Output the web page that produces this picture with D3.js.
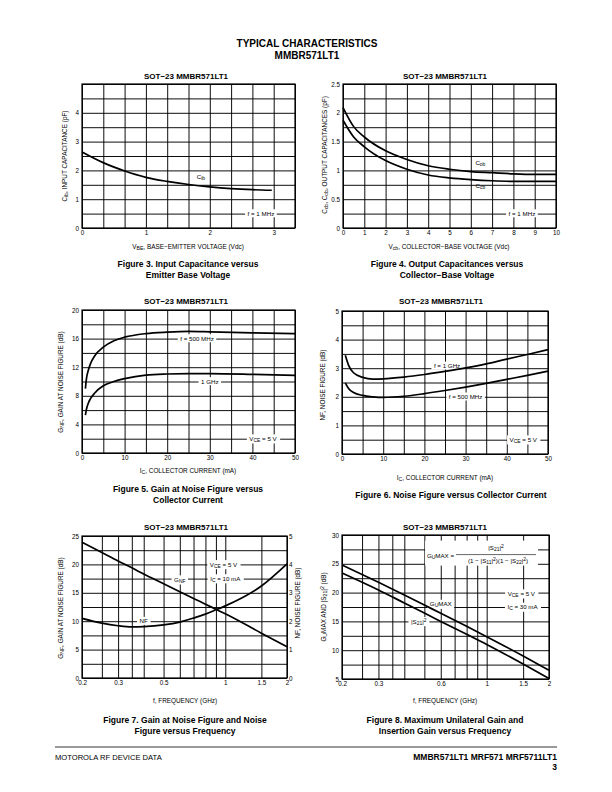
<!DOCTYPE html>
<html><head><meta charset="utf-8">
<script src="https://cdn.jsdelivr.net/npm/d3@7"></script>
<style>
body{margin:0;background:#fff}
svg{display:block}
text{font-family:"Liberation Sans",Arial,Helvetica,sans-serif}
</style>
</head><body>
<svg id="c" width="612" height="792"></svg>
<script>
// ---------------- DATA ----------------
// Figure 3: Input capacitance vs VBE
const fig3Vbe = [0, 0.33, 0.67, 1.0, 1.33, 1.67, 2.0, 2.33, 2.67, 2.97];
const fig3Cib = [2.64, 2.27, 1.98, 1.76, 1.62, 1.51, 1.43, 1.37, 1.33, 1.31];
const fig3XTicks = [0, 1, 2, 3];
const fig3YTicks = [0, 1, 2, 3, 4];

// Figure 4: Output capacitances vs VCB
const fig4Vcb = [0, 0.5, 1, 2, 3, 4, 5, 6, 7, 8, 9, 10];
const fig4Cob = [2.09, 1.76, 1.58, 1.34, 1.19, 1.08, 1.02, 0.98, 0.96, 0.94, 0.93, 0.93];
const fig4Ccb = [1.87, 1.58, 1.41, 1.17, 1.02, 0.92, 0.87, 0.84, 0.82, 0.81, 0.81, 0.81];
const fig4XTicks = [0, 1, 2, 3, 4, 5, 6, 7, 8, 9, 10];
const fig4YTicks = [0, 0.5, 1, 1.5, 2, 2.5];

// Figure 5: Gain at noise figure vs collector current
const fig5Ic = [0.8, 1.0, 1.5, 2, 3, 5, 7.5, 10, 15, 20, 25, 30, 40, 50];
const fig5G500 = [9.0, 10.2, 11.6, 12.5, 13.6, 14.8, 15.7, 16.2, 16.7, 16.9, 17.0, 16.95, 16.8, 16.7];
const fig5G1G = [5.3, 6.0, 7.0, 7.6, 8.4, 9.4, 10.0, 10.4, 10.9, 11.05, 11.1, 11.1, 11.0, 10.85];
const fig5XTicks = [0, 10, 20, 30, 40, 50];
const fig5YTicks = [0, 4, 8, 12, 16, 20];

// Figure 6: Noise figure vs collector current
const fig6Ic = [0.8, 1.6, 2.8, 5, 7.5, 10, 15, 20, 25, 30, 35, 40, 45, 50];
const fig6NF1G = [3.45, 3.1, 2.84, 2.68, 2.62, 2.63, 2.69, 2.78, 2.89, 3.01, 3.15, 3.32, 3.48, 3.65];
const fig6NF500 = [2.49, 2.29, 2.15, 2.05, 2.0, 1.98, 2.02, 2.11, 2.22, 2.34, 2.47, 2.61, 2.75, 2.9];
const fig6XTicks = [0, 10, 20, 30, 40, 50];
const fig6YTicks = [0, 1, 2, 3, 4, 5];

// Figure 7: GNF and NF vs frequency
const fig7Freq = [0.2, 0.25, 0.3, 0.35, 0.4, 0.5, 0.6, 0.7, 0.8, 0.9, 1.0, 1.5, 2.0];
const fig7GNF = [23.9, 22.1, 20.6, 19.4, 18.3, 16.6, 15.2, 14.0, 13.0, 12.1, 11.3, 7.9, 5.5];
const fig7NF = [2.10, 1.93, 1.84, 1.80, 1.81, 1.87, 1.97, 2.11, 2.25, 2.40, 2.54, 3.24, 4.02];
const fig7XTicks = [0.2, 0.3, 0.5, 1, 1.5, 2];
const fig7XTickLabels = ["0.2", "0.3", "0.5", "1", "1.5", "2"];
const fig7YTicks = [0, 5, 10, 15, 20, 25];
const fig7Y2Ticks = [0, 1, 2, 3, 4, 5];

// Figure 8: GUmax and |S21|^2 vs frequency
const fig8Freq = [0.2, 0.3, 0.4, 0.5, 0.6, 0.8, 1.0, 1.5, 2.0];
const fig8GUmax = [24.8, 21.8, 19.6, 17.85, 16.4, 14.15, 12.35, 9.0, 6.5];
const fig8S21 = [23.4, 20.45, 18.2, 16.45, 15.0, 12.75, 11.0, 7.6, 5.1];
const fig8XTicks = [0.2, 0.3, 0.6, 1, 1.5, 2];
const fig8XTickLabels = ["0.2", "0.3", "0.6", "1", "1.5", "2"];
const fig8YTicks = [5, 10, 15, 20, 25, 30];

// log-scale grid lines used in Fig. 7 and 8
const logGrid = [0.2, 0.25, 0.3, 0.35, 0.4, 0.5, 0.6, 0.7, 0.8, 0.9, 1, 1.5, 2];

// ---------------- DRAWING ----------------
const FONT = '"Liberation Sans",Arial,Helvetica,sans-serif';
const svg = d3.select('#c');

function rich(t, parts) {
  if (typeof parts === 'string') parts = [parts];
  parts.forEach(p => {
    const s = typeof p === 'string' ? p : p[0];
    const mode = typeof p === 'string' ? null : p[1];
    const ts = t.append('tspan').text(s);
    if (mode === 'sub') ts.attr('baseline-shift', '-22%').attr('font-size', '80%');
    if (mode === 'sup') ts.attr('baseline-shift', '38%').attr('font-size', '80%');
  });
  return t;
}

function txt(x, y, parts, o = {}) {
  const t = svg.append('text')
    .attr('x', x).attr('y', y)
    .attr('font-size', o.size || 6)
    .attr('font-weight', o.bold ? 'bold' : 'normal')
    .attr('text-anchor', o.anchor || 'middle')
    .attr('fill', o.fill || '#000');
  if (o.rotate) t.attr('transform', `rotate(${o.rotate},${x},${y})`);
  rich(t, parts);
  return t;
}

function panel(p) {
  const x = (p.log ? d3.scaleLog() : d3.scaleLinear()).domain(p.xDomain).range([p.l, p.r]);
  const y = d3.scaleLinear().domain(p.yDomain).range([p.b, p.t]);
  const w = p.r - p.l, h = p.b - p.t;
  const g = svg.append('g');
  const gridStyle = a => {
    a.select('.domain').remove();
    a.selectAll('line').attr('stroke', '#000').attr('stroke-width', 0.95);
  };
  g.append('g').attr('transform', `translate(0,${p.b})`)
    .call(d3.axisBottom(x).tickValues(p.xGrid).tickSize(-h).tickFormat(''))
    .call(gridStyle);
  g.append('g').attr('transform', `translate(${p.l},0)`)
    .call(d3.axisLeft(y).tickValues(p.yGrid).tickSize(-w).tickFormat(''))
    .call(gridStyle);
  g.append('rect').attr('x', p.l).attr('y', p.t).attr('width', w).attr('height', h)
    .attr('fill', 'none').attr('stroke', '#000').attr('stroke-width', 1.2);

  const tickStyle = a => {
    a.select('.domain').remove();
    a.attr('font-family', FONT).attr('font-size', 6.3);
    a.selectAll('text').attr('fill', '#000');
  };
  g.append('g').attr('transform', `translate(0,${p.b})`)
    .call(d3.axisBottom(x).tickValues(p.xTicks).tickSize(0).tickPadding(3)
      .tickFormat((d, i) => p.xLabels ? p.xLabels[i] : String(d)))
    .call(tickStyle);
  g.append('g').attr('transform', `translate(${p.l},0)`)
    .call(d3.axisLeft(y).tickValues(p.yTicks).tickSize(0).tickPadding(3).tickFormat(d => String(d)))
    .call(tickStyle);

  const boxes = g.append('g');
  const curves = g.append('g');
  const texts = g.append('g');
  return { x, y, g, boxes, curves, texts, p };
}

function curve(P, xs, ys, yScale) {
  const ysc = yScale || P.y;
  const data = xs.map((v, i) => [v, ys[i]]);
  P.curves.append('path').datum(data)
    .attr('d', d3.line().x(d => P.x(d[0])).y(d => ysc(d[1])).curve(d3.curveMonotoneX))
    .attr('fill', 'none').attr('stroke', '#000').attr('stroke-width', 1.7)
    .attr('stroke-linejoin', 'round');
}

function note(P, xv, yv, parts, box, yScale) {
  const ysc = yScale || P.y;
  const t = P.texts.append('text')
    .attr('x', P.x(xv)).attr('y', ysc(yv)).attr('dy', '0.35em')
    .attr('font-size', 6.2).attr('text-anchor', 'middle').attr('font-family', FONT);
  rich(t, parts);
  if (box) {
    const bb = t.node().getBBox();
    P.boxes.append('rect').attr('x', bb.x - 2.5).attr('y', bb.y - 0.5)
      .attr('width', bb.width + 5).attr('height', bb.height + 1).attr('fill', '#fff');
  }
  return t;
}

const TS = 8;    // panel title size
const CS = 8.5;  // caption size
const AS = 6.4;  // axis title size

// ---- page heading ----
txt(307, 47, 'TYPICAL CHARACTERISTICS', { size: 10, bold: true });
txt(307, 59, 'MMBR571LT1', { size: 10, bold: true });

// ---- Figure 3 ----
{
  const P = panel({ l: 82, r: 295, t: 84, b: 228, xDomain: [0, 10 / 3], yDomain: [0, 5],
    xGrid: d3.range(0, 11).map(i => i / 3), yGrid: d3.range(0, 11).map(i => i / 2),
    xTicks: fig3XTicks, yTicks: fig3YTicks });
  curve(P, fig3Vbe, fig3Cib);
  note(P, 1.86, 1.76, ['C', ['ib', 'sub']], false);
  note(P, 2.8, 0.5, 'f = 1 MHz', true);
  txt(186, 79, 'SOT−23 MMBR571LT1', { size: TS, bold: true });
  txt(67, 156, [['C'], ['ib', 'sub'], ', INPUT CAPACITANCE (pF)'], { rotate: -90, size: AS });
  txt(188, 249, [['V'], ['BE', 'sub'], ', BASE−EMITTER VOLTAGE (Vdc)'], { size: AS });
  txt(188, 267, 'Figure 3. Input Capacitance versus', { size: CS, bold: true });
  txt(188, 278, 'Emitter Base Voltage', { size: CS, bold: true });
}

// ---- Figure 4 ----
{
  const P = panel({ l: 343, r: 556, t: 84, b: 228, xDomain: [0, 10], yDomain: [0, 2.5],
    xGrid: d3.range(0, 11), yGrid: d3.range(0, 11).map(i => i / 4),
    xTicks: fig4XTicks, yTicks: fig4YTicks });
  curve(P, fig4Vcb, fig4Cob);
  curve(P, fig4Vcb, fig4Ccb);
  note(P, 6.45, 1.13, ['C', ['ob', 'sub']], false);
  note(P, 6.45, 0.74, ['C', ['cb', 'sub']], false);
  note(P, 8.4, 0.25, 'f = 1 MHz', true);
  txt(445, 79, 'SOT−23 MMBR571LT1', { size: TS, bold: true });
  txt(327, 155, [['C'], ['cb', 'sub'], ', C', ['ob', 'sub'], ', OUTPUT CAPACITANCES (pF)'], { rotate: -90, size: AS });
  txt(449, 249, [['V'], ['cb', 'sub'], ', COLLECTOR−BASE VOLTAGE (Vdc)'], { size: AS });
  txt(447, 267, 'Figure 4. Output Capacitances versus', { size: CS, bold: true });
  txt(447, 278, 'Collector−Base Voltage', { size: CS, bold: true });
}

// ---- Figure 5 ----
{
  const P = panel({ l: 82, r: 295, t: 310, b: 453, xDomain: [0, 50], yDomain: [0, 20],
    xGrid: d3.range(0, 51, 5), yGrid: d3.range(0, 21, 2),
    xTicks: fig5XTicks, yTicks: fig5YTicks });
  curve(P, fig5Ic, fig5G500);
  curve(P, fig5Ic, fig5G1G);
  note(P, 27, 16, 'f = 500 MHz', true);
  note(P, 30, 10, '1 GHz', true);
  note(P, 42.5, 2, ['V', ['CE', 'sub'], ' = 5 V'], true);
  txt(186, 304, 'SOT−23 MMBR571LT1', { size: TS, bold: true });
  txt(63, 382, [['G'], ['NF', 'sub'], ', GAIN AT NOISE FIGURE (dB)'], { rotate: -90, size: AS });
  txt(188, 473, [['I'], ['C', 'sub'], ', COLLECTOR CURRENT (mA)'], { size: AS });
  txt(188, 492, 'Figure 5. Gain at Noise Figure versus', { size: CS, bold: true });
  txt(188, 503, 'Collector Current', { size: CS, bold: true });
}

// ---- Figure 6 ----
{
  const P = panel({ l: 342, r: 548, t: 311, b: 454, xDomain: [0, 50], yDomain: [0, 5],
    xGrid: d3.range(0, 51, 5), yGrid: d3.range(0, 11).map(i => i / 2),
    xTicks: fig6XTicks, yTicks: fig6YTicks });
  curve(P, fig6Ic, fig6NF1G);
  curve(P, fig6Ic, fig6NF500);
  note(P, 25.5, 3.08, 'f = 1 GHz', true);
  note(P, 30, 2, 'f = 500 MHz', true);
  note(P, 44, 0.5, ['V', ['CE', 'sub'], ' = 5 V'], true);
  txt(441, 304, 'SOT−23 MMBR571LT1', { size: TS, bold: true });
  txt(325, 385, 'NF, NOISE FIGURE (dB)', { rotate: -90, size: AS });
  txt(445, 480, [['I'], ['C', 'sub'], ', COLLECTOR CURRENT (mA)'], { size: AS });
  txt(451, 498, 'Figure 6. Noise Figure versus Collector Current', { size: CS, bold: true });
}

// ---- Figure 7 ----
{
  const P = panel({ l: 82, r: 287, t: 536, b: 678, log: true, xDomain: [0.2, 2], yDomain: [0, 25],
    xGrid: logGrid, yGrid: d3.range(0, 26, 2.5),
    xTicks: fig7XTicks, xLabels: fig7XTickLabels, yTicks: fig7YTicks });
  const y2 = d3.scaleLinear().domain([0, 5]).range([678, 536]);
  P.g.append('g').attr('transform', 'translate(287,0)')
    .call(d3.axisRight(y2).tickValues(fig7Y2Ticks).tickSize(0).tickPadding(2).tickFormat(d => String(d)))
    .call(a => { a.select('.domain').remove(); a.attr('font-family', FONT).attr('font-size', 6.3); a.selectAll('text').attr('fill', '#000'); });
  curve(P, fig7Freq, fig7GNF);
  curve(P, fig7Freq, fig7NF, y2);
  note(P, 0.6, 17.3, ['G', ['NF', 'sub']], true);
  note(P, 0.4, 10, 'NF', true);
  note(P, 0.98, 20, ['V', ['CE', 'sub'], ' = 5 V'], true);
  note(P, 1.0, 17.5, ['I', ['C', 'sub'], ' = 10 mA'], true);
  txt(186, 530, 'SOT−23 MMBR571LT1', { size: TS, bold: true });
  txt(63, 608, [['G'], ['NF', 'sub'], ', GAIN AT NOISE FIGURE (dB)'], { rotate: -90, size: AS });
  txt(300, 603, 'NF, NOISE FIGURE (dB)', { rotate: -90, size: AS });
  txt(185, 703, 'f, FREQUENCY (GHz)', { size: AS });
  txt(185, 723, 'Figure 7. Gain at Noise Figure and Noise', { size: CS, bold: true });
  txt(185, 734, 'Figure versus Frequency', { size: CS, bold: true });
}

// ---- Figure 8 ----
{
  const P = panel({ l: 342, r: 549, t: 535, b: 679, log: true, xDomain: [0.2, 2], yDomain: [5, 30],
    xGrid: logGrid, yGrid: d3.range(5, 31, 2.5),
    xTicks: fig8XTicks, xLabels: fig8XTickLabels, yTicks: fig8YTicks });
  curve(P, fig8Freq, fig8GUmax);
  curve(P, fig8Freq, fig8S21);
  note(P, 0.6, 18.0, ['G', ['U', 'sub'], 'MAX'], true);
  note(P, 0.47, 15, ['|S', ['21', 'sub'], '|', ['2', 'sup']], true);
  note(P, 1.47, 19.8, ['V', ['CE', 'sub'], ' = 5 V'], true);
  note(P, 1.49, 17.5, ['I', ['C', 'sub'], ' = 30 mA'], true);
  // formula box
  const fx = P.x(1.11), fy = P.y(26.6);
  P.boxes.append('rect').attr('x', fx - 71).attr('y', fy - 14).attr('width', 113).attr('height', 25).attr('fill', '#fff');
  const ft = (dx, dy, parts, anchor) => {
    const t = P.texts.append('text').attr('x', fx + dx).attr('y', fy + dy).attr('dy', '0.35em')
      .attr('font-size', 6.2).attr('text-anchor', anchor || 'middle').attr('font-family', FONT);
    rich(t, parts);
  };
  ft(-42, 1, ['G', ['U', 'sub'], 'MAX = '], 'end');
  ft(0, -7, ['|S', ['21', 'sub'], '|', ['2', 'sup']]);
  ft(2, 6, ['(1 − |S', ['11', 'sub'], '|', ['2', 'sup'], ')(1 − |S', ['22', 'sub'], '|', ['2', 'sup'], ')']);
  P.texts.append('line').attr('x1', fx - 40).attr('x2', fx + 40).attr('y1', fy).attr('y2', fy)
    .attr('stroke', '#000').attr('stroke-width', 0.6);
  txt(445, 530, 'SOT−23 MMBR571LT1', { size: TS, bold: true });
  txt(326, 607, [['G'], ['U', 'sub'], 'MAX AND |S', ['21', 'sub'], '|', ['2', 'sup'], ' (dB)'], { rotate: -90, size: AS });
  txt(445, 703, 'f, FREQUENCY (GHz)', { size: AS });
  txt(445, 723, 'Figure 8. Maximum Unilateral Gain and', { size: CS, bold: true });
  txt(445, 734, 'Insertion Gain versus Frequency', { size: CS, bold: true });
}

// ---- footer ----
svg.append('line').attr('x1', 55).attr('x2', 557).attr('y1', 747).attr('y2', 747)
  .attr('stroke', '#000').attr('stroke-width', 0.8);
txt(55, 760, 'MOTOROLA RF DEVICE DATA', { size: 7.6, anchor: 'start' });
txt(557, 760, 'MMBR571LT1 MRF571 MRF5711LT1', { size: 8.5, bold: true, anchor: 'end' });
txt(557, 770, '3', { size: 8.5, bold: true, anchor: 'end' });
</script>
</body></html>
